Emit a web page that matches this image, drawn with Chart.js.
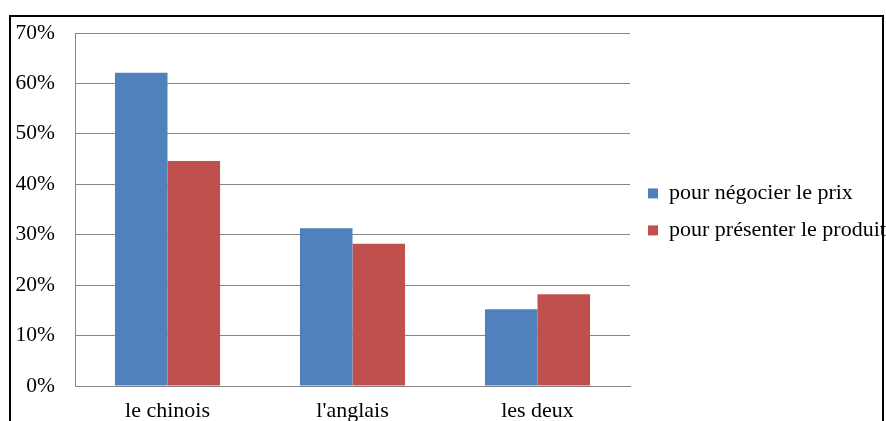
<!DOCTYPE html>
<html><head><meta charset="utf-8">
<script src="https://cdn.jsdelivr.net/npm/chart.js@4"></script>
<style>
html,body{margin:0;padding:0;overflow:hidden;background:#fff;width:886px;height:421px;}
#wrap{position:absolute;left:0;top:0;width:886px;height:440px;}
#frame{position:absolute;left:9px;top:15px;width:871px;height:480px;border:2px solid #000;pointer-events:none;}
</style></head><body>
<div id="wrap"><canvas id="c" width="886" height="440"></canvas></div>
<div id="frame"></div>
<script>
const categories = ["le chinois", "l'anglais", "les deux"];
const seriesNames = ["pour négocier le prix", "pour présenter le produit"];
const negocierValues = [62.1, 31.3, 15.2];
const presenterValues = [44.6, 28.2, 18.2];
const yTickValues = [0, 10, 20, 30, 40, 50, 60, 70];
const yTickLabels = ["0%", "10%", "20%", "30%", "40%", "50%", "60%", "70%"];

const FONT = "'Liberation Serif', 'Times New Roman', serif";
const GRID = '#868686';

new Chart(document.getElementById('c'), {
  type: 'bar',
  data: {
    labels: categories,
    datasets: [
      { label: seriesNames[0], data: negocierValues, backgroundColor: '#4F81BD',
        categoryPercentage: 0.568, barPercentage: 1, yAxisID: 'y' },
      { label: seriesNames[1], data: presenterValues, backgroundColor: '#C0504D',
        categoryPercentage: 0.568, barPercentage: 1, yAxisID: 'y' }
    ]
  },
  options: {
    responsive: false,
    devicePixelRatio: 1,
    animation: false,
    layout: { padding: { top: 33, left: 0, right: 0, bottom: 0 } },
    plugins: {
      tooltip: { enabled: false },
      legend: {
        position: 'right',
        align: 'center',
        fullSize: false,
        maxWidth: 253,
        title: { display: true, text: ' ', padding: 0, font: { size: 4, lineHeight: 1.2 } },
        labels: {
          boxWidth: 10, boxHeight: 10, padding: 15, color: '#000',
          font: { family: FONT, size: 22 }
        }
      }
    },
    scales: {
      x: {
        grid: { display: false, drawTicks: false },
        border: { display: true, color: GRID, width: 1 },
        ticks: { color: '#000', padding: 12, font: { family: FONT, size: 22 }, maxRotation: 0 },
        afterFit(s) { s.height = 54; }
      },
      y: {
        min: 0, max: 70,
        afterBuildTicks(s) { s.ticks = yTickValues.map(v => ({ value: v })); },
        grid: { color: GRID, lineWidth: 1, drawTicks: false },
        border: { display: true, color: GRID, width: 1 },
        ticks: {
          color: '#000', padding: 20, font: { family: FONT, size: 21.5 },
          callback(v) { const i = yTickValues.indexOf(v); return i >= 0 ? yTickLabels[i] : ''; }
        },
        afterFit(s) { s.width = 75; }
      },
      y2: {
        type: 'linear', position: 'right', display: true,
        grid: { display: false, drawTicks: false },
        border: { display: false },
        ticks: { display: false },
        afterFit(s) { s.width = 3; }
      }
    }
  }
});
</script>
</body></html>
